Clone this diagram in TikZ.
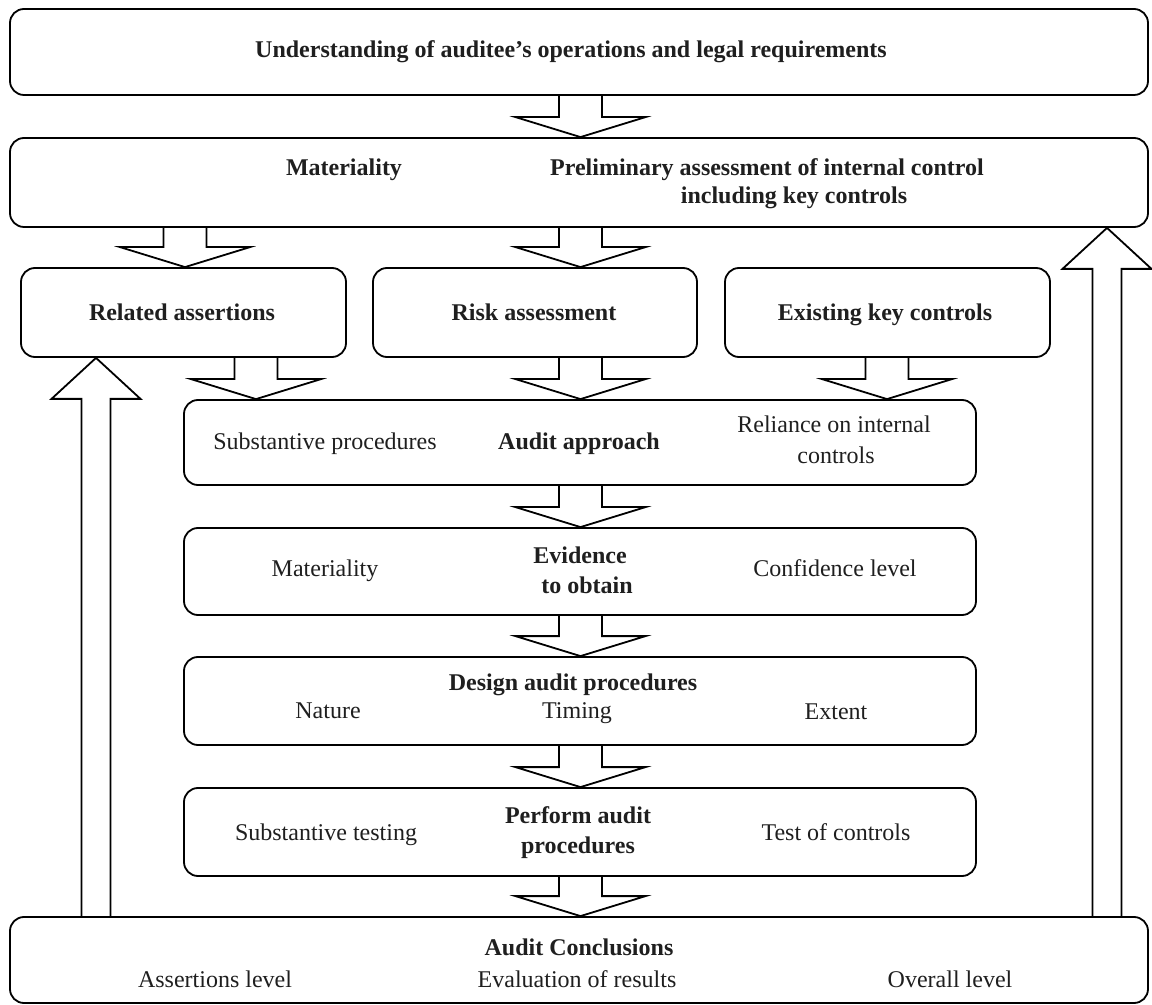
\documentclass[tikz,border=0pt]{standalone}
\usepackage{fontspec}
\setmainfont{Liberation Serif}
\usetikzlibrary{calc}

% block arrow pointing down, centred at x=#1 (px), from node #2 to node #3
\newcommand{\blkdown}[3]{%
  \draw[blockarrow] let \p1=(#2.south), \p2=(#3.north) in
    ({(#1-21.5)*0.5pt},\y1) -- ({(#1-21.5)*0.5pt},{\y2+10pt})
    -- ({(#1-65)*0.5pt},{\y2+10pt}) -- ({#1*0.5pt},\y2)
    -- ({(#1+65)*0.5pt},{\y2+10pt}) -- ({(#1+21.5)*0.5pt},{\y2+10pt})
    -- ({(#1+21.5)*0.5pt},\y1);}
% block arrow pointing up, centred at x=#1 (px), from node #2 to node #3
\newcommand{\blkup}[3]{%
  \draw[blockarrow] let \p1=(#2.north), \p2=(#3.south) in
    ({(#1-14.5)*0.5pt},\y1) -- ({(#1-14.5)*0.5pt},{\y2-20.5pt})
    -- ({(#1-44.5)*0.5pt},{\y2-20.5pt}) -- ({#1*0.5pt},\y2)
    -- ({(#1+44.5)*0.5pt},{\y2-20.5pt}) -- ({(#1+14.5)*0.5pt},{\y2-20.5pt})
    -- ({(#1+14.5)*0.5pt},\y1);}
% rounded box given by its corners (px): name, x1, y1, x2, y2
\newcommand{\panel}[5]{%
  \node[panelbox, minimum width={(#4-#2)*0.5pt}, minimum height={(#5-#3)*0.5pt}]
    (#1) at ({(#2+#4)/2},{(#3+#5)/2}) {};}

\begin{document}
\begin{tikzpicture}[x=0.5pt,y=-0.5pt,
  panelbox/.style={draw=black, line width=0.9pt, rounded corners=7pt, inner sep=0pt},
  blockarrow/.style={draw=black, line width=0.9pt, line join=miter},
  txt/.style={anchor=base, inner sep=0pt, text=black!88, font=\fontsize{12}{14}\selectfont},
  btxt/.style={txt, font=\fontsize{12}{14}\selectfont\bfseries}]
\useasboundingbox[fill=white] (0,0) rectangle (1152,1005);

% boxes
\panel{understand}{10}{9}{1148}{95}
\panel{prelim}{10}{138}{1148}{227}
\panel{assert}{21}{268}{346}{357}
\panel{risk}{373}{268}{697}{357}
\panel{keyctl}{725}{268}{1050}{357}
\panel{approach}{184}{400}{976}{485}
\panel{evidence}{184}{528}{976}{615}
\panel{design}{184}{657}{976}{745}
\panel{perform}{184}{788}{976}{876}
\panel{conclude}{10}{917}{1148}{1003}

% texts
\node[btxt] (t1) at (571,58) {Understanding of auditee’s operations and legal requirements};
\node[btxt] (t2) at (344,176) {Materiality};
\node[btxt] (t3) at (767,176) {Preliminary assessment of internal control};
\node[btxt] (t4) at (794,204) {including key controls};
\node[btxt] (t5) at (182,321) {Related assertions};
\node[btxt] (t6) at (534,321) {Risk assessment};
\node[btxt] (t7) at (885,321) {Existing key controls};
\node[txt]  (t8) at (325,450) {Substantive procedures};
\node[btxt] (t9) at (579,450) {Audit approach};
\node[txt]  (t10) at (834,433) {Reliance on internal};
\node[txt]  (t11) at (836,464) {controls};
\node[txt]  (t12) at (325,577) {Materiality};
\node[btxt] (t13) at (580,564) {Evidence};
\node[btxt] (t14) at (587,594) {to obtain};
\node[txt]  (t15) at (835,577) {Confidence level};
\node[btxt] (t16) at (573,690) {Design audit procedures};
\node[txt]  (t17) at (328,718) {Nature};
\node[txt]  (t18) at (577,718) {Timing};
\node[txt]  (t19) at (836,719) {Extent};
\node[btxt] (t20) at (578,823) {Perform audit};
\node[btxt] (t21) at (578,853) {procedures};
\node[txt]  (t22) at (326,840) {Substantive testing};
\node[txt]  (t23) at (836,840) {Test of controls};
\node[btxt] (t24) at (579,955) {Audit Conclusions};
\node[txt]  (t25) at (215,987) {Assertions level};
\node[txt]  (t26) at (577,987) {Evaluation of results};
\node[txt]  (t27) at (950,987) {Overall level};

% block arrows
\blkdown{580.5}{understand}{prelim}
\blkdown{185}{prelim}{assert}
\blkdown{580.5}{prelim}{risk}
\blkdown{256}{assert}{approach}
\blkdown{580.5}{risk}{approach}
\blkdown{887}{keyctl}{approach}
\blkdown{580.5}{approach}{evidence}
\blkdown{580.5}{evidence}{design}
\blkdown{580.5}{design}{perform}
\blkdown{580.5}{perform}{conclude}
\blkup{96}{conclude}{assert}
\blkup{1107}{conclude}{prelim}
\end{tikzpicture}
\end{document}
